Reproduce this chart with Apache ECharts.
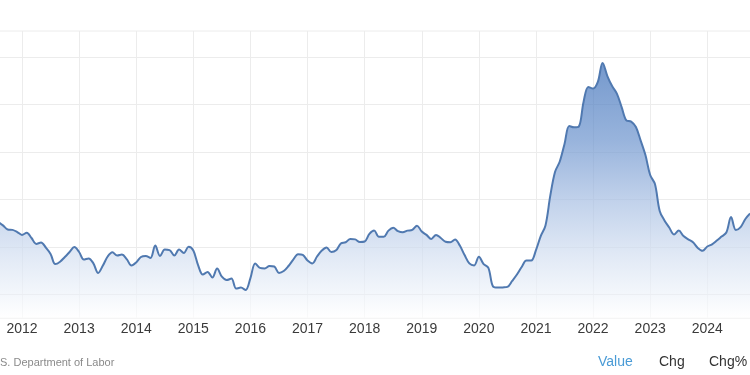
<!DOCTYPE html>
<html>
<head>
<meta charset="utf-8">
<script src="https://cdn.jsdelivr.net/npm/echarts@6/dist/echarts.min.js"></script>
<style>
html,body{margin:0;padding:0;background:#fff;}
#chart{width:750px;height:375px;}
</style>
</head>
<body>
<div id="chart"></div>
<script>
// Monthly series, first value = Aug 2011
const startYear = 2011;
const startMonth = 8;
const values = [
  // 2011 Aug-Dec
  3.05, 2.91, 2.74, 2.72, 2.63,
  // 2012
  2.51, 2.60, 2.38, 2.13, 2.19, 1.98, 1.71, 1.28, 1.38, 1.58, 1.79, 2.00,
  // 2013
  1.79, 1.47, 1.52, 1.31, 0.91, 1.22, 1.60, 1.78, 1.64, 1.68, 1.49, 1.22,
  // 2014
  1.35, 1.58, 1.62, 1.54, 2.06, 1.62, 1.89, 1.87, 1.64, 1.89, 1.75, 2.01,
  // 2015
  1.85, 1.24, 0.84, 0.95, 0.72, 1.09, 0.75, 0.61, 0.67, 0.25, 0.29, 0.19,
  // 2016
  0.69, 1.31, 1.12, 1.10, 1.20, 1.18, 0.91, 0.99, 1.20, 1.47, 1.70, 1.67,
  // 2017
  1.43, 1.31, 1.60, 1.85, 1.98, 1.79, 1.86, 2.15, 2.20, 2.34, 2.32, 2.21,
  // 2018
  2.23, 2.55, 2.69, 2.43, 2.43, 2.69, 2.81, 2.67, 2.62, 2.69, 2.72, 2.90,
  // 2019
  2.65, 2.51, 2.34, 2.51, 2.38, 2.22, 2.20, 2.32, 2.06, 1.66, 1.31, 1.22,
  // 2020
  1.59, 1.28, 1.12, 0.33, 0.29, 0.30, 0.32, 0.57, 0.84, 1.16, 1.43, 1.43,
  // 2021
  1.87, 2.46, 2.91, 4.15, 5.16, 5.60, 6.34, 7.09, 7.04, 7.07, 8.11, 8.74,
  // 2022
  8.67, 8.95, 9.75, 9.20, 8.78, 8.46, 7.89, 7.33, 7.28, 7.05, 6.48, 5.87,
  // 2023
  5.03, 4.65, 3.52, 3.12, 2.82, 2.53, 2.69, 2.46, 2.32, 2.20, 1.96, 1.84,
  // 2024 Jan-Oct
  2.02, 2.11, 2.27, 2.44, 2.61, 3.26, 2.72, 2.84, 3.18, 3.41
];
const sourceText = 'U.S. Department of Labor';
const tabLabels = ['Value', 'Chg', 'Chg%'];

const seriesData = values.map((v, i) => {
  const m = startMonth - 1 + i;
  return [startYear + m / 12, v];
});

const font = "'Liberation Sans', Arial, sans-serif";
const gridColor = '#ececec';

const chart = echarts.init(document.getElementById('chart'), null, {renderer: 'canvas'});
chart.setOption({
  animation: false,
  backgroundColor: '#ffffff',
  grid: [
    {left: -35.11, right: -14.4, top: 31, bottom: 57, outerBoundsMode: 'none', containLabel: false,
     show: true, borderColor: gridColor, borderWidth: 1, backgroundColor: 'transparent'},
    {left: -35.11, right: -14.4, top: 57, bottom: 80.5, outerBoundsMode: 'none', containLabel: false}
  ],
  xAxis: [
    {
      gridIndex: 0, type: 'value', min: 2011, max: 2025, interval: 1,
      axisLine: {show: true, lineStyle: {color: '#e2e2e2', width: 1}},
      axisTick: {show: false},
      splitLine: {show: true, lineStyle: {color: gridColor, width: 1}},
      axisLabel: {show: true, color: '#3a3a3a', fontSize: 14, fontFamily: font, margin: 4,
                  showMinLabel: false, showMaxLabel: false,
                  formatter: v => String(Math.round(v))}
    },
    {gridIndex: 1, type: 'value', min: 2011, max: 2025, show: false}
  ],
  yAxis: [
    {gridIndex: 0, type: 'value', min: -0.989, max: 11.095, show: false, splitLine: {show: false}},
    {gridIndex: 1, type: 'value', min: 0, max: 10, interval: 2,
     axisLine: {show: false}, axisTick: {show: false}, axisLabel: {show: false},
     splitLine: {show: true, lineStyle: {color: gridColor, width: 1}}}
  ],
  series: [{
    type: 'line',
    xAxisIndex: 0, yAxisIndex: 0,
    data: seriesData,
    smooth: 0.35,
    showSymbol: false,
    lineStyle: {color: '#5079b0', width: 2},
    areaStyle: {
      origin: 'start',
      color: new echarts.graphic.LinearGradient(0, 0, 0, 1, [
        {offset: 0, color: '#3a6db7'},
        {offset: 0.3, color: '#6b93cd'},
        {offset: 0.55, color: '#a9c0e3'},
        {offset: 0.75, color: '#d3dff1'},
        {offset: 1, color: '#ffffff'}
      ])
    }
  }],
  graphic: [
    {type: 'text', left: -11, top: 357, style: {text: sourceText, fill: '#8a8a8a', font: '11px ' + font}},
    {type: 'text', left: 598, top: 355, style: {text: tabLabels[0], fill: '#4a9bd6', font: '14px ' + font}},
    {type: 'text', left: 659, top: 355, style: {text: tabLabels[1], fill: '#333333', font: '14px ' + font}},
    {type: 'text', left: 709, top: 355, style: {text: tabLabels[2], fill: '#333333', font: '14px ' + font}}
  ]
});
</script>
</body>
</html>
